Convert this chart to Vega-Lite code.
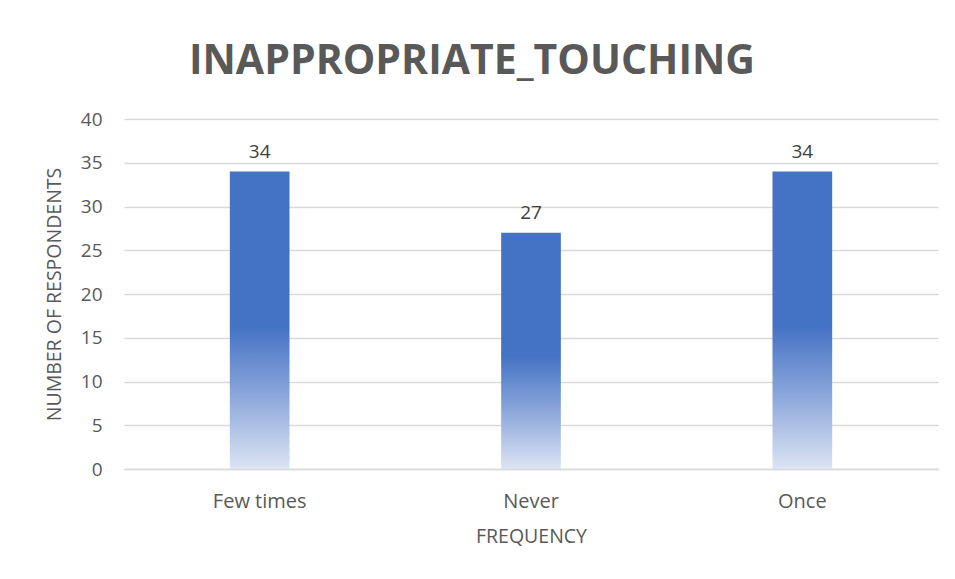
{
  "$schema": "https://vega.github.io/schema/vega-lite/v6.json",
  "autosize": "none",
  "width": 814,
  "height": 350,
  "padding": {"left": 124, "top": 119, "right": 17, "bottom": 110},
  "background": "white",
  "title": {
    "text": "INAPPROPRIATE_TOUCHING",
    "font": "Open Sans",
    "fontSize": 41,
    "fontWeight": "bold",
    "color": "#595959",
    "anchor": "middle",
    "frame": "group",
    "dx": -59,
    "offset": 27
  },
  "data": {
    "values": [
      {"frequency": "Few times", "count": 34},
      {"frequency": "Never", "count": 27},
      {"frequency": "Once", "count": 34}
    ]
  },
  "encoding": {
    "x": {
      "field": "frequency",
      "type": "nominal",
      "sort": null,
      "scale": {"paddingInner": 0.78, "paddingOuter": 0.39},
      "axis": {
        "title": "FREQUENCY",
        "labelAngle": 0,
        "labelFont": "Open Sans",
        "labelFontSize": 20,
        "labelColor": "#595959",
        "labelPadding": 22,
        "ticks": false,
        "domainColor": "#d9d9d9",
        "domainWidth": 1.5,
        "titleFont": "Open Sans",
        "titleFontSize": 19.5,
        "titleFontWeight": "normal",
        "titleColor": "#595959",
        "titlePadding": 16
      }
    },
    "y": {
      "field": "count",
      "type": "quantitative",
      "scale": {"domain": [0, 40]},
      "axis": {
        "title": "NUMBER OF RESPONDENTS",
        "values": [0, 5, 10, 15, 20, 25, 30, 35, 40],
        "labelFont": "Open Sans",
        "labelFontSize": 19,
        "labelColor": "#595959",
        "labelPadding": 22,
        "ticks": false,
        "domain": false,
        "gridColor": "#d9d9d9",
        "gridWidth": 1.5,
        "titleFont": "Open Sans",
        "titleFontSize": 19.5,
        "titleFontWeight": "normal",
        "titleColor": "#595959",
        "titlePadding": 16
      }
    }
  },
  "layer": [
    {
      "mark": {
        "type": "bar",
        "color": {
          "gradient": "linear",
          "x1": 0, "y1": 0, "x2": 0, "y2": 1,
          "stops": [
            {"offset": 0, "color": "#4472C4"},
            {"offset": 0.52, "color": "#4472C4"},
            {"offset": 0.75, "color": "#8aa6da"},
            {"offset": 1, "color": "#dce4f4"}
          ]
        }
      }
    },
    {
      "mark": {
        "type": "text",
        "baseline": "bottom",
        "dy": -10,
        "font": "Open Sans",
        "fontSize": 19,
        "color": "#404040"
      },
      "encoding": {"text": {"field": "count", "type": "quantitative"}}
    }
  ],
  "config": {"view": {"stroke": null}}
}
